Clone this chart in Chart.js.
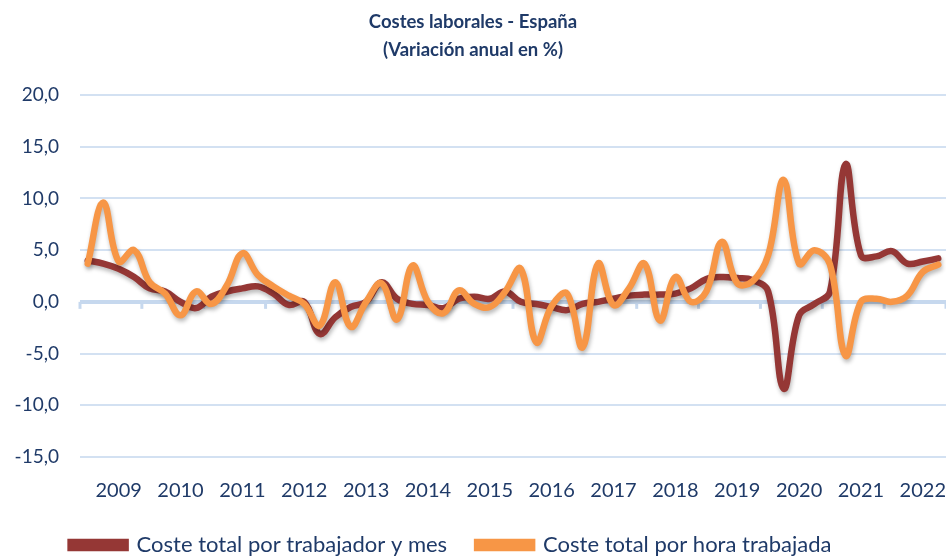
<!DOCTYPE html>
<html><head><meta charset="utf-8">
<script src="https://cdn.jsdelivr.net/npm/chart.js@4.4.1/dist/chart.umd.min.js"></script>
<style>html,body{margin:0;padding:0;background:#fff}#wrap{width:946px;height:556px}</style>
</head><body><div id="wrap"><canvas id="c" width="946" height="556"></canvas></div>
<script>
const years = ['2009','2010','2011','2012','2013','2014','2015','2016','2017','2018','2019','2020','2021','2022'];
const quarters = ['T1','T2','T3','T4'];
const labelQuarter = 'T3';
const costeTrabajadorMes = [
  4.0, 3.7, 3.2, 2.4, 1.3, 1.0, 0.0, -0.6, 0.5, 1.0,
  1.3, 1.5, 0.8, -0.3, 0.0, -3.1, -1.5, -0.5, 0.0, 1.9,
  0.3, -0.2, -0.3, -0.6, 0.3, 0.5, 0.3, 1.0, 0.0, -0.2,
  -0.5, -0.8, -0.2, 0.0, 0.3, 0.6, 0.7, 0.7, 0.8, 1.3,
  2.2, 2.4, 2.3, 2.1, 1.0, -8.4, -1.3, -0.2, 1.0, 13.3,
  4.5, 4.4, 4.9, 3.7, 3.9, 4.2
];
const costeHoraTrabajada = [
  3.7, 9.6, 3.9, 5.0, 1.9, 0.8, -1.3, 1.0, -0.2, 1.6,
  4.7, 2.6, 1.5, 0.6, -0.2, -2.3, 1.9, -2.4, 0.0, 1.8,
  -1.7, 3.5, 0.0, -1.1, 1.1, -0.2, -0.5, 1.0, 3.2, -3.9,
  -0.4, 0.8, -4.4, 3.7, -0.3, 1.3, 3.7, -1.8, 2.4, 0.0,
  1.0, 5.8, 1.8, 2.0, 4.5, 11.8, 3.7, 5.0, 3.6, -5.2,
  0.0, 0.3, 0.0, 0.6, 2.9, 3.6
];
const seriesNames = ['Coste total por trabajador y mes', 'Coste total por hora trabajada'];
const titleLines = ['Costes laborales - España', '(Variación anual en %)'];
const yMin = -15, yMax = 20, yStep = 5;

const categories = [];
years.forEach(y => quarters.forEach(q => categories.push(y + '-' + q)));

const FONT = "Lato, 'Open Sans', sans-serif";
const TEXT = '#1f3a68';

const shadowPlugin = {
  id: 'shadow',
  beforeDatasetDraw(chart) {
    const ctx = chart.ctx; ctx.save();
    ctx.shadowColor = 'rgba(0,0,0,0.28)'; ctx.shadowBlur = 4; ctx.shadowOffsetX = 1; ctx.shadowOffsetY = 3;
  },
  afterDatasetDraw(chart) { chart.ctx.restore(); }
};
const zeroTicks = {
  id: 'zeroTicks',
  beforeDatasetsDraw(chart) {
    const x = chart.scales.x, y = chart.scales.y, ctx = chart.ctx;
    const y0 = y.getPixelForValue(0);
    ctx.save();
    ctx.strokeStyle = '#c6d8ee'; ctx.lineWidth = 3;
    for (let i = 0; i <= categories.length; i += 4) {
      const px = x.getPixelForValue(i - 0.5);
      ctx.beginPath(); ctx.moveTo(px, y0); ctx.lineTo(px, y0 + 7); ctx.stroke();
    }
    ctx.restore();
  }
};
const legendShift = {
  id: 'legendShift',
  afterLayout(chart) {
    if (chart.legend) { chart.legend.left -= 22; chart.legend.right -= 22; }
  }
};

new Chart(document.getElementById('c'), {
  type: 'line',
  data: {
    labels: categories,
    datasets: [
      { label: seriesNames[0], data: costeTrabajadorMes, borderColor: '#953735', backgroundColor: '#953735',
        borderWidth: 6.5, pointRadius: 0, tension: 0.4, order: 1, borderCapStyle: 'round' },
      { label: seriesNames[1], data: costeHoraTrabajada, borderColor: '#f79646', backgroundColor: '#f79646',
        borderWidth: 6.5, pointRadius: 0, tension: 0.4, order: 0, borderCapStyle: 'round' }
    ]
  },
  options: {
    responsive: false, animation: false,
    layout: { padding: { left: 0, right: 0, top: 0, bottom: -10 } },
    plugins: {
      tooltip: { enabled: false },
      title: { display: true, text: titleLines, color: TEXT,
        font: { family: FONT, size: 18.5, weight: 'bold', lineHeight: '28px' },
        padding: { top: 8, bottom: 31 } },
      legend: { position: 'bottom',
        labels: { color: TEXT, font: { family: FONT, size: 22 }, boxWidth: 55, boxHeight: 6, padding: 30,
          sort: (a, b) => a.datasetIndex - b.datasetIndex } }
    },
    scales: {
      x: { type: 'category', offset: true,
        grid: { display: false, drawTicks: false },
        border: { display: false },
        ticks: { autoSkip: false, maxRotation: 0, color: TEXT, padding: 22,
          font: { family: FONT, size: 20 },
          callback: (v, i) => categories[i].endsWith(labelQuarter) ? categories[i].slice(0, 4) : '' },
        afterFit: s => { s.height = 47; s.paddingLeft = 0; s.paddingRight = 0; } },
      y: { min: yMin, max: yMax,
        border: { display: false },
        grid: { drawTicks: false,
          color: c => c.tick && c.tick.value === 0 ? '#c6d8ee' : '#d3e1f2',
          lineWidth: c => c.tick && c.tick.value === 0 ? 4 : 2 },
        ticks: { stepSize: yStep, padding: 21, color: TEXT, font: { family: FONT, size: 19 },
          callback: v => v.toFixed(1).replace('.', ',') },
        afterFit: s => { s.width = 80; } }
    }
  },
  plugins: [zeroTicks, shadowPlugin, legendShift]
});
</script></body></html>
